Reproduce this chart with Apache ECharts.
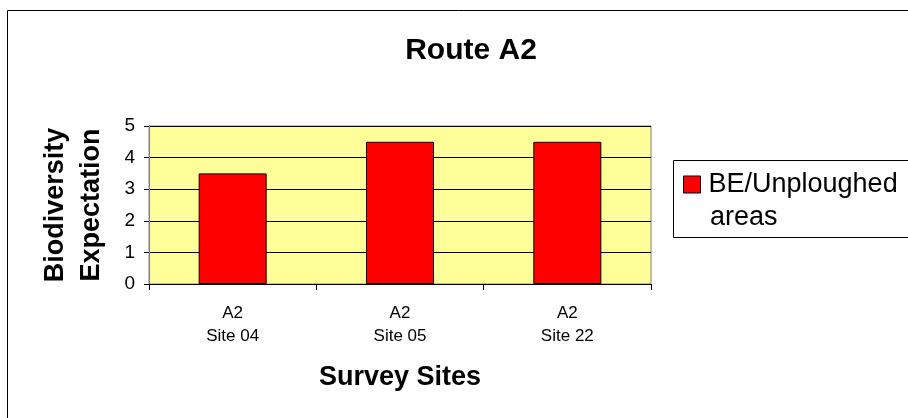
<!DOCTYPE html>
<html>
<head>
<meta charset="utf-8">
<script src="https://cdn.jsdelivr.net/npm/echarts@6/dist/echarts.min.js"></script>
<style>
  html, body { margin: 0; padding: 0; background: #fff; }
  #chart { width: 908px; height: 418px; }
</style>
</head>
<body>
<div id="chart"></div>
<script>
// survey sites and values
var categories = ['A2\nSite 04', 'A2\nSite 05', 'A2\nSite 22'];
var beValues = [3.5, 4.5, 4.5];
var seriesName = 'BE/Unploughed areas';

var myChart = echarts.init(document.getElementById('chart'));
var font = 'Arial, "Liberation Sans", sans-serif';

myChart.setOption({
    animation: false,
    backgroundColor: '#fff',
    textStyle: { fontFamily: font, color: '#000' },
    title: {
        text: 'Route A2',
        left: 466,
        top: 31,
        textAlign: 'center',
        textStyle: { fontFamily: font, fontSize: 30, fontWeight: 'bold', color: '#000' }
    },
    graphic: [
        // outer frame
        { type: 'rect', shape: { x: 7.5, y: 10.5, width: 1000, height: 600 },
          style: { fill: null, stroke: '#000', lineWidth: 1 }, silent: true },
        // legend box
        { type: 'rect', shape: { x: 673.5, y: 160.5, width: 400, height: 77 },
          style: { fill: '#fff', stroke: '#000', lineWidth: 1 }, silent: true, z: 1 },
        // second line of the legend entry
        { type: 'text', x: 710, y: 218, z: 6, silent: true,
          style: { text: 'areas', fontFamily: font, fontSize: 27, fill: '#000', verticalAlign: 'middle' } }
    ],
    legend: {
        left: 683,
        top: 168,
        orient: 'vertical',
        padding: 0,
        itemWidth: 17,
        itemHeight: 17,
        icon: 'rect',
        z: 5,
        data: [{ name: seriesName, itemStyle: { color: '#FF0000', borderColor: '#000', borderWidth: 1 } }],
        formatter: function () { return 'BE/Unploughed'; },
        textStyle: { fontFamily: font, fontSize: 27, color: '#000', lineHeight: 33, padding: [0, 0, 0, 3] }
    },
    grid: {
        left: 149,
        right: 257,
        top: 126,
        bottom: 134,
        show: true,
        backgroundColor: '#FFFF99',
        borderColor: '#808080',
        borderWidth: 1
    },
    xAxis: {
        type: 'category',
        data: categories,
        name: 'Survey Sites',
        nameLocation: 'middle',
        nameGap: 80,
        nameTextStyle: { fontFamily: font, fontSize: 27, fontWeight: 'bold', color: '#000' },
        axisLine: { show: true, lineStyle: { color: '#000', width: 1 } },
        axisTick: { show: true, length: 6, lineStyle: { color: '#000' } },
        axisLabel: { fontFamily: font, fontSize: 17, color: '#000', lineHeight: 23, margin: 18 },
        splitLine: { show: false }
    },
    yAxis: {
        type: 'value',
        min: 0,
        max: 5,
        interval: 1,
        name: 'Biodiversity\nExpectation',
        nameLocation: 'middle',
        nameGap: 39,
        nameTextStyle: { fontFamily: font, fontSize: 27, fontWeight: 'bold', color: '#000', lineHeight: 36 },
        axisLine: { show: true, lineStyle: { color: '#808080', width: 1 } },
        axisTick: { show: true, length: 5, lineStyle: { color: '#000' } },
        axisLabel: { fontFamily: font, fontSize: 19, color: '#000', margin: 14 },
        splitLine: { show: true, lineStyle: { color: '#000', width: 1 } }
    },
    series: [{
        name: seriesName,
        type: 'bar',
        data: beValues,
        barWidth: 68,
        itemStyle: { color: '#FF0000', borderColor: '#000', borderWidth: 1 }
    }]
});
</script>
</body>
</html>
